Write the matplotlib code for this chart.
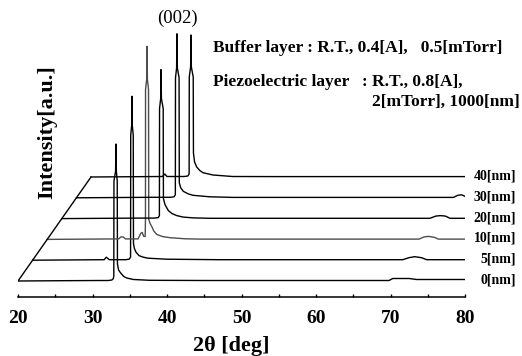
import matplotlib.pyplot as plt
from matplotlib.transforms import blended_transform_factory

plt.rcParams["font.family"] = ["Liberation Serif", "DejaVu Serif"]

# --- XRD scans (2theta in deg, intensity in a.u.) ---
labels = ["0[nm]", "5[nm]", "10[nm]", "20[nm]", "30[nm]", "40[nm]"]

tt_0 = [20.0, 26.0, 31.0, 32.1, 32.6, 32.8, 32.86, 32.88, 33.1, 33.15, 33.2, 33.32,
        33.35, 33.5, 33.78, 34.2, 34.59, 35.5, 37.7, 45.0, 69.8, 70.3, 72.5, 73.5, 80.0]
i_0 = [0.0, 0.3, 0.5, 0.5, 1.0, 2.5, 5.0, 100.0, 110.0, 137.0, 110.0, 100.0,
       17.0, 11.0, 8.0, 4.5, 3.0, 1.5, 0.7, 0.5, 0.5, 2.5, 2.5, 1.5, 1.5]

tt_5 = [20.0, 29.6, 29.9, 30.3, 32.5, 32.95, 33.15, 33.17, 33.3, 33.34, 33.38, 33.51,
        33.54, 33.65, 33.88, 34.3, 34.86, 35.5, 38.0, 45.0, 69.7, 70.5, 71.3, 72.2,
        72.9, 80.0]
i_5 = [0.0, 0.5, 3.0, 0.5, 0.5, 1.0, 3.0, 125.0, 135.0, 164.0, 135.0, 125.0,
       17.0, 12.0, 8.0, 4.5, 3.0, 2.0, 1.0, 0.5, 0.5, 2.5, 3.5, 2.5,
       0.5, 0.5]

tt_10 = [20.0, 29.6, 29.9, 30.2, 30.5, 32.2, 32.55, 32.75, 32.95, 33.15, 33.19, 33.2,
         33.35, 33.40, 33.45, 33.6, 33.63, 33.8, 34.03, 34.3, 34.7, 35.5, 36.5, 38.5,
         40.5, 69.9, 70.6, 71.2, 72.0, 72.5, 80.0]
i_10 = [0.0, 0.5, 2.5, 2.5, 0.5, 0.5, 6.0, 7.0, 3.0, 3.0, 20.0, 150.0,
        160.0, 193.0, 160.0, 150.0, 20.0, 16.0, 13.0, 8.5, 5.0, 2.8, 1.7, 0.6,
        0.3, 0.3, 2.5, 3.0, 2.0, 0.3, 0.3]

tt_20 = [20.0, 30.0, 32.4, 32.95, 33.1, 33.12, 33.27, 33.32, 33.37, 33.61, 33.64, 33.85,
         34.3, 34.8, 35.43, 36.3, 37.7, 40.0, 69.4, 70.2, 70.8, 71.5, 72.1, 80.0]
i_20 = [0.0, 0.5, 0.5, 1.0, 3.0, 110.0, 120.0, 149.0, 120.0, 110.0, 20.0, 14.0,
        8.0, 5.0, 3.0, 1.5, 0.7, 0.3, 0.3, 2.5, 3.0, 2.5, 0.3, 0.3]

tt_30 = [20.0, 30.0, 32.6, 33.1, 33.28, 33.3, 33.45, 33.50, 33.55, 33.78, 33.81, 34.0,
         34.35, 34.98, 35.65, 37.9, 41.0, 70.6, 71.2, 71.7, 72.3, 80.0]
i_30 = [0.0, 0.5, 0.5, 1.0, 3.0, 120.0, 130.0, 164.0, 130.0, 120.0, 15.0, 10.0,
        6.5, 4.0, 2.5, 1.0, 0.4, 0.4, 2.5, 3.0, 1.0, 0.4]

tt_40 = [20.0, 29.6, 29.9, 30.2, 32.5, 33.0, 33.17, 33.19, 33.37, 33.42, 33.47, 33.72,
         33.75, 33.9, 34.19, 34.6, 35.03, 36.37, 39.0, 45.0, 80.0]
i_40 = [0.0, 0.5, 3.0, 0.5, 0.5, 1.0, 3.0, 100.0, 110.0, 142.0, 110.0, 100.0,
        24.0, 15.0, 10.0, 6.5, 4.3, 2.0, 0.5, 0.4, 0.4]

ticks = [20, 30, 40, 50, 60, 70, 80]

scans = [(tt_0, i_0), (tt_5, i_5), (tt_10, i_10), (tt_20, i_20), (tt_30, i_30), (tt_40, i_40)]
colors = ["black", "black", "#4d4d4d", "black", "black", "black"]

# waterfall offsets: shift right (deg) and up (a.u.) per scan
dx, dy, y0 = 1.96, 20.8, 16.0

fig = plt.figure(figsize=(5.22, 3.56), dpi=100)
ax = fig.add_axes([18 / 522, 59 / 356, 447 / 522, 297 / 356])
lab_tr = blended_transform_factory(fig.transFigure, ax.transData)

for k, (tt, inten) in enumerate(scans):
    x = [t + k * dx for t in tt]
    y = [v + y0 + k * dy for v in inten]
    ax.plot(x, y, color=colors[k], lw=1.0)
    ax.text(516 / 522, y0 + k * dy + 1, labels[k], transform=lab_tr, ha="right",
            va="center", fontsize=10, fontweight="bold")

# slanted left edge joining the scan starts
ax.plot([20 + k * dx for k in range(len(scans))], [y0 + k * dy for k in range(len(scans))],
        color="black", lw=1.0)

ax.set_xlim(20, 80)
ax.set_ylim(0, 297)
for s in ["left", "right", "top"]:
    ax.spines[s].set_visible(False)
ax.spines["bottom"].set_linewidth(1.1)
ax.set_yticks([])
ax.set_xticks(ticks)
ax.set_xticks([25, 35, 45, 55, 65, 75], minor=True)
ax.tick_params(axis="x", which="both", direction="in", length=2.5, width=1, pad=9.5)
for t in ax.get_xticklabels():
    t.set_fontsize(14)
    t.set_fontweight("bold")

fig.text(231 / 522, 1 - 346 / 356, "2θ [deg]", ha="center", va="center",
         fontsize=16, fontweight="bold")
fig.text(47 / 522, 1 - 132 / 356, "Intensity[a.u.]", rotation=90, ha="center",
         va="center", fontsize=16, fontweight="bold")
fig.text(177 / 522, 1 - 18 / 356, "(002)", ha="center", va="center", fontsize=13.5)
fig.text(213 / 522, 1 - 48 / 356, "Buffer layer : R.T., 0.4[A],   0.5[mTorr]",
         ha="left", va="center", fontsize=12.5, fontweight="bold")
fig.text(213 / 522, 1 - 82 / 356, "Piezoelectric layer   : R.T., 0.8[A],",
         ha="left", va="center", fontsize=12.5, fontweight="bold")
fig.text(372 / 522, 1 - 102 / 356, "2[mTorr], 1000[nm]",
         ha="left", va="center", fontsize=12.5, fontweight="bold")

fig.savefig("out.png", dpi=100)
